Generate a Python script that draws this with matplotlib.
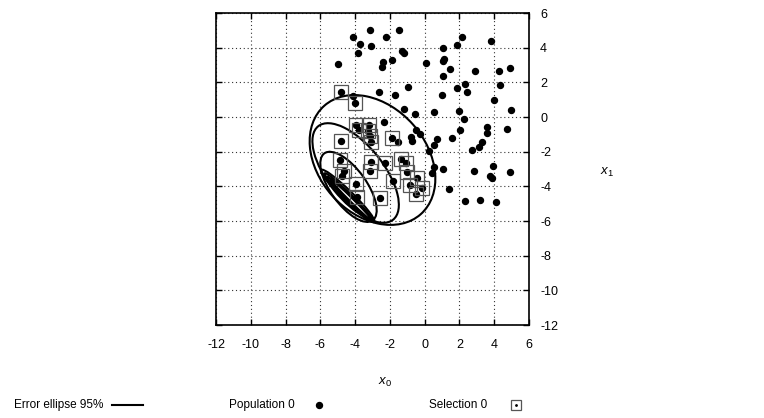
import matplotlib
matplotlib.use('Agg')
import matplotlib.pyplot as plt
from matplotlib.patches import Ellipse
from matplotlib.lines import Line2D
import numpy as np

plt.rcParams['font.family'] = ['Liberation Sans', 'DejaVu Sans']
plt.rcParams['font.size'] = 8.5
plt.rcParams['mathtext.fontset'] = 'custom'
plt.rcParams['mathtext.it'] = 'Liberation Sans:italic'
plt.rcParams['mathtext.rm'] = 'Liberation Sans'

# population 0 (all sampled points)
pop_x = [-3.17, -1.5, -4.14, -2.23, -3.74, -3.11, -3.82, -1.29, -1.21, -4.99,
         -2.38, -1.89, -2.46, 0.08, -0.93, -2.61, -1.71, -4.83, -4.13, -3.99,
         2.12, 3.82, 1.87, 1.03, 1.1, 1.03, 1.45, 2.9, 4.26, 4.9,
         1.05, 2.33, 4.32, 1.85, 2.46, 0.99, -1.2, -0.58, -2.33, -0.52,
         -0.28, -0.81, -0.7, -1.54, 4.01, 0.53, 1.97, 2.25, 4.94, 3.56,
         4.74, 2.06, 3.56, 1.55, 0.72, 0.51, 3.27, 3.1, 2.7, 0.27,
         3.94, 0.53, 1.06, 0.43, 2.86, 4.9, 3.73, 3.9, 1.42, 2.31,
         3.21, 4.09,
         -3.97, -3.8, -3.21, -3.25, -3.15, -3.07, -4.8, -1.9, -4.86, -3.07,
         -3.17, -4.65, -4.75, -3.95, -3.9, -2.59, -2.27, -1.35, -1.1, -1.0,
         -1.84, -0.43, -0.87, -0.14, -0.51]
pop_y = [5.0, 5.0, 4.62, 4.6, 4.21, 4.12, 3.71, 3.79, 3.69, 3.04,
         3.19, 3.27, 2.87, 3.1, 1.75, 1.46, 1.28, 1.46, 1.22, 0.78,
         4.6, 4.39, 4.14, 4.0, 3.35, 3.25, 2.75, 2.67, 2.67, 2.85,
         2.35, 1.89, 1.85, 1.68, 1.46, 1.29, 0.47, 0.18, -0.26, -0.73,
         -0.97, -1.15, -1.38, -1.44, 0.97, 0.29, 0.35, -0.11, 0.41, -0.55,
         -0.67, -0.74, -0.93, -1.2, -1.28, -1.61, -1.45, -1.71, -1.91, -1.99,
         -2.8, -2.9, -2.99, -3.22, -3.14, -3.16, -3.39, -3.53, -4.14, -4.82,
         -4.76, -4.93,
         -0.44, -0.74, -0.44, -0.8, -1.07, -1.42, -1.38, -1.24, -2.47, -2.6,
         -3.13, -3.1, -3.4, -3.87, -4.63, -4.67, -2.63, -2.41, -2.66, -3.18,
         -3.68, -3.53, -3.95, -4.09, -4.43]

# selection 0 (boxed points)
sel_x = [-4.83, -3.99, -3.97, -3.8, -3.21, -3.25, -3.15, -3.07, -4.8, -1.9,
         -4.86, -3.07, -3.17, -4.65, -4.75, -3.95, -3.9, -2.59, -2.27, -1.35,
         -1.1, -1.0, -1.84, -0.43, -0.87, -0.14, -0.51]
sel_y = [1.46, 0.78, -0.44, -0.74, -0.44, -0.8, -1.07, -1.42, -1.38, -1.24,
         -2.47, -2.6, -3.13, -3.1, -3.4, -3.87, -4.63, -4.67, -2.63, -2.41,
         -2.66, -3.18, -3.68, -3.53, -3.95, -4.09, -4.43]

# 95% error ellipses: centre, semi-axes, angle (deg)
ell_cx = [-3.0, -3.97, -4.38, -4.43, -4.35, -4.28, -4.2]
ell_cy = [-2.48, -3.23, -4.03, -4.55, -4.65, -4.75, -4.8]
ell_a = [4.18, 3.45, 2.38, 2.14, 1.98, 1.86, 1.7]
ell_b = [3.1, 1.59, 1.03, 0.3, 0.2, 0.15, 0.1]
ell_ang = [-48.5, -51.4, -54.3, -44.5, -45.0, -44.5, -45.0]

ticks = np.arange(-12, 7, 2)

fig = plt.figure(figsize=(7.64, 4.18), dpi=100)
ax = fig.add_axes([216/764, 1-325/418, 313/764, 312/418])

ax.grid(True, linestyle=(0, (1, 2.5)), color='#333333', lw=0.8)
ax.set_axisbelow(True)

for cx, cy, a, b, ang in zip(ell_cx, ell_cy, ell_a, ell_b, ell_ang):
	ax.add_patch(Ellipse((cx, cy), 2*a, 2*b, angle=ang, fill=False,
	                     ec='black', lw=1.5, zorder=3))

ax.plot(pop_x, pop_y, 'o', ms=4.3, color='black', zorder=4)
ax.plot(sel_x, sel_y, 's', ms=9.5, mfc='none', mec='#555555', mew=0.9, zorder=5)

ax.set_xlim(-12, 6)
ax.set_ylim(-12, 6)
ax.set_xticks(ticks)
ax.set_yticks(ticks)
ax.set_xticklabels(['%d' % t for t in ticks], fontsize=9)
ax.set_yticklabels(['%d' % t for t in ticks], fontsize=9)
ax.tick_params(direction='in', length=4.5, width=1, top=True, bottom=True,
               left=True, right=True, labelleft=False, labelright=True)
ax.tick_params(axis='x', pad=10)
ax.tick_params(axis='y', pad=8)
for s in ax.spines.values():
	s.set_linewidth(1.2)

fig.text(385/764, 1-382/418, '$x_0$', ha='center', va='center', fontsize=9.5)
fig.text(607/764, 1-172/418, '$x_1$', ha='center', va='center', fontsize=9.5)

# key along the bottom
ky = 1-405/418
fig.text(103/764, ky, 'Error ellipse 95%', ha='right', va='center')
fig.lines.append(Line2D([112/764, 143/764], [ky, ky], transform=fig.transFigure,
                        color='black', lw=1.5))
fig.text(295/764, ky, 'Population 0', ha='right', va='center')
fig.lines.append(Line2D([319/764], [ky], transform=fig.transFigure, marker='o',
                        ms=4.3, color='black', ls='none'))
fig.text(487/764, ky, 'Selection 0', ha='right', va='center')
fig.lines.append(Line2D([516/764], [ky], transform=fig.transFigure, marker='s',
                        ms=7.5, mfc='none', mec='#555555', mew=0.9, ls='none'))
fig.lines.append(Line2D([516/764], [ky], transform=fig.transFigure, marker='o',
                        ms=1, color='black', ls='none'))

fig.savefig('out.png', dpi=100)
